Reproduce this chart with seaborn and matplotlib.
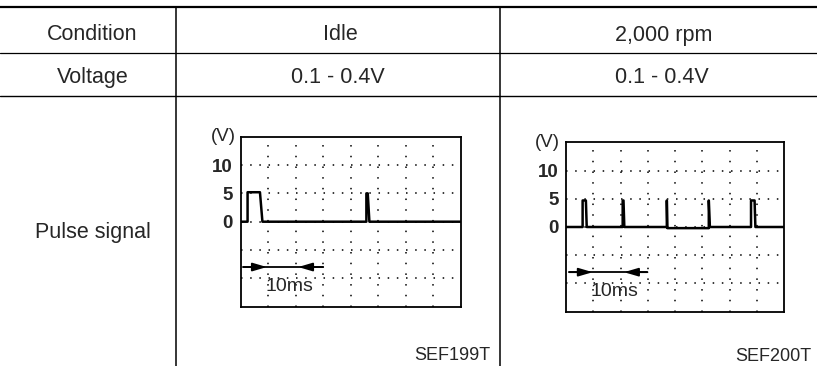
import matplotlib
matplotlib.use("Agg")
import matplotlib.pyplot as plt
from matplotlib.lines import Line2D
import seaborn as sns

# ---- data ----
row_labels = ["Condition", "Voltage", "Pulse signal"]
conditions = ["Idle", "2,000 rpm"]
voltages = ["0.1 - 0.4V", "0.1 - 0.4V"]
figure_codes = ["SEF199T", "SEF200T"]
y_ticks = [0, 5, 10]
y_tick_labels = ["0", "5", "10"]
unit_label = "(V)"
span_label = "10ms"

# time in screen divisions, voltage in V
idle_t = [0, 0.25, 0.25, 0.70, 0.79, 4.57, 4.57, 4.62, 4.68, 8]
idle_v = [0, 0, 5.2, 5.2, 0, 0, 5.0, 5.0, 0, 0]
rpm_t = [0, 0.61, 0.61, 0.73, 0.76, 2.08, 2.08, 2.11, 2.14, 3.70, 3.70, 3.72,
         5.24, 5.24, 5.28, 6.79, 6.79, 6.92, 6.95, 8]
rpm_v = [0, 0, 4.7, 4.7, 0, 0, 4.7, 4.7, 0, 0, 4.7, -0.2,
         -0.2, 4.7, 0, 0, 4.7, 4.7, 0, 0]
span_start = [0.10, 0.12]
span_end = [3.00, 2.99]
head_in = [0.95, 0.98]
head_out = [2.09, 2.13]

sns.set_style("white")
plt.rcParams["font.family"] = ["Liberation Sans", "DejaVu Sans"]

W, H = 817, 366
fig = plt.figure(figsize=(W / 100, H / 100), dpi=100)

# ---- table grid (figure pixel layout) ----
def hline(y, lw):
    fig.add_artist(Line2D([0, 1], [1 - y / H, 1 - y / H], color="black", lw=lw,
                          transform=fig.transFigure))

def vline(x, y0, y1, lw):
    fig.add_artist(Line2D([x / W, x / W], [1 - y0 / H, 1 - y1 / H], color="black",
                          lw=lw, transform=fig.transFigure))

hline(6.5, 1.6)
hline(52.5, 0.9)
hline(95.7, 1.0)
vline(176, 6.5, 366, 1.1)
vline(500, 6.5, 366, 1.1)

def ftext(x, y, s, size, ha="center"):
    fig.text(x / W, 1 - y / H, s, fontsize=size, ha=ha, va="baseline")

ftext(92.5, 40.5, row_labels[0], 15.5)
ftext(92.5, 83.3, row_labels[1], 15.5)
ftext(92.5, 238.3, row_labels[2], 15.5)
ftext(340.5, 40.5, conditions[0], 15.5)
ftext(663.3, 40.5, conditions[1], 15.5)
ftext(337.5, 83.3, voltages[0], 15.5)
ftext(661.7, 83.3, voltages[1], 15.5)
ftext(490, 359.5, figure_codes[0], 13, ha="right")
ftext(811, 361, figure_codes[1], 13, ha="right")

# ---- scope charts ----
boxes = [(240.7, 136.7, 460.7, 306.7), (566, 142.3, 784, 311.7)]
signals = [(idle_t, idle_v), (rpm_t, rpm_v)]
unit_offsets = [-3.5, -4.5]

for i, ((x0, y0, x1, y1), (tt, vv)) in enumerate(zip(boxes, signals)):
    ax = fig.add_axes([x0 / W, 1 - y1 / H, (x1 - x0) / W, (y1 - y0) / H])
    ax.set_xlim(0, 8)
    ax.set_ylim(-15, 15)
    for gx in range(1, 8):
        ax.axvline(gx, color="black", lw=1.1, ls=(0, (1, 6)), zorder=1)
    for gy in (-10, -5, 0, 5, 10):
        ax.axhline(gy, color="black", lw=1.1, ls=(0, (1, 5)), zorder=1)
    sns.lineplot(x=tt, y=vv, sort=False, estimator=None, color="black",
                 lw=1.8, ax=ax, zorder=3)
    ax.set_xlabel("")
    ax.set_ylabel("")
    ax.set_xticks([])
    ax.set_yticks(y_ticks)
    ax.set_yticklabels(y_tick_labels, fontsize=13.5, fontweight="bold")
    ax.tick_params(axis="y", length=0, pad=5.5)
    for sp in ax.spines.values():
        sp.set_visible(True)
        sp.set_color("black")
        sp.set_linewidth(1.3)
    ax.annotate(unit_label, xy=(0, 1), xycoords="axes fraction",
                xytext=(unit_offsets[i], 0), textcoords="offset points",
                ha="right", va="center", fontsize=13.5)
    # 10ms span marker
    ax.plot([span_start[i], span_end[i]], [-8, -8], color="black", lw=1.3, zorder=4)
    for tip, tail in ((head_in[i], span_start[i]), (head_out[i], span_end[i])):
        ax.annotate("", xy=(tip, -8), xytext=(tail, -8),
                    arrowprops=dict(arrowstyle="-|>,head_length=0.85,head_width=0.25",
                                    color="black", lw=1.3,
                                    mutation_scale=10, shrinkA=0, shrinkB=0))
    ax.text(1.78, -12.2, span_label, ha="center", va="baseline", fontsize=14)

fig.savefig("out.png", dpi=100)
